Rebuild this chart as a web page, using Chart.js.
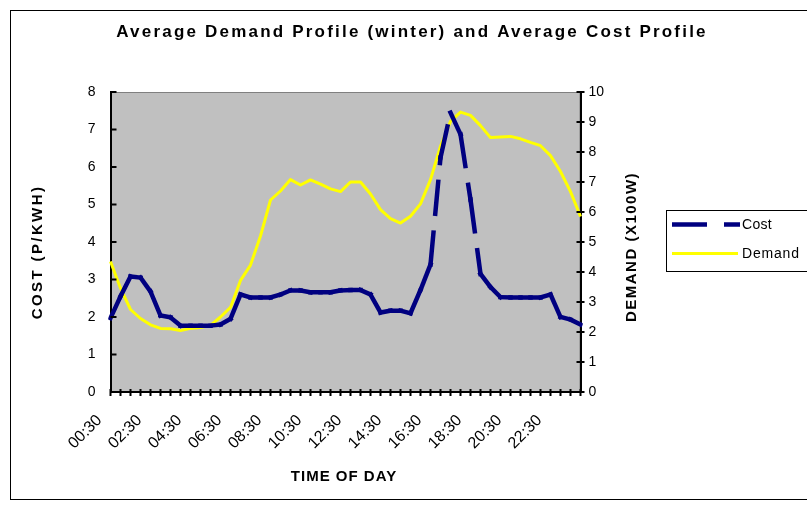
<!DOCTYPE html>
<html><head><meta charset="utf-8">
<script src="https://cdn.jsdelivr.net/npm/chart.js@4/dist/chart.umd.min.js"></script>
<style>html,body{margin:0;padding:0;background:#fff;}#wrap{width:807px;height:513px;}</style>
</head><body><div id="wrap"><canvas id="c" width="807" height="513"></canvas></div>
<script>
const times = ["00:30","01:00","01:30","02:00","02:30","03:00","03:30","04:00","04:30","05:00","05:30","06:00",
  "06:30","07:00","07:30","08:00","08:30","09:00","09:30","10:00","10:30","11:00","11:30","12:00",
  "12:30","13:00","13:30","14:00","14:30","15:00","15:30","16:00","16:30","17:00","17:30","18:00",
  "18:30","19:00","19:30","20:00","20:30","21:00","21:30","22:00","22:30","23:00","23:30","00:00"];
const shownTicks = ["00:30","02:30","04:30","06:30","08:30","10:30","12:30","14:30","16:30","18:30","20:30","22:30"];
const cost = [1.97,2.55,3.08,3.05,2.68,2.04,1.99,1.77,1.77,1.77,1.77,1.8,
  1.95,2.6,2.52,2.52,2.52,2.6,2.71,2.71,2.66,2.66,2.66,2.71,
  2.72,2.72,2.6,2.12,2.17,2.17,2.1,2.72,3.4,6.25,7.45,6.87,
  5.13,3.15,2.8,2.53,2.52,2.52,2.52,2.52,2.6,2.0,1.93,1.8];
const demand = [4.35,3.46,2.75,2.45,2.24,2.12,2.11,2.05,2.12,2.15,2.22,2.5,
  2.82,3.72,4.23,5.2,6.4,6.7,7.08,6.9,7.07,6.93,6.77,6.68,
  7.0,7.0,6.6,6.08,5.78,5.63,5.86,6.27,7.08,8.19,9.02,9.33,
  9.22,8.88,8.48,8.5,8.52,8.44,8.32,8.21,7.88,7.35,6.68,5.85];
const costTicks = {min:0, max:8, step:1};
const demandTicks = {min:0, max:10, step:1};
const titleText = "Average Demand Profile (winter) and Average Cost Profile";
const xTitle = "TIME OF DAY";
const yLeftTitle = "COST (P/KWH)";
const yRightTitle = "DEMAND (X100W)";
const FONT = "'Liberation Sans', Arial, sans-serif";

function txt(ctx, s, x, y, font, align, rot, ls) {
  ctx.save();
  ctx.translate(x, y);
  if (rot) ctx.rotate(rot);
  ctx.font = font;
  try { ctx.letterSpacing = (ls || 0) + 'px'; } catch (e) {}
  ctx.textAlign = align;
  ctx.textBaseline = 'middle';
  ctx.fillStyle = '#000';
  ctx.fillText(s, 0, 0);
  ctx.restore();
}

const decor = {
  id: 'decor',
  beforeDraw(chart) {
    const {ctx, chartArea: a} = chart;
    ctx.save();
    ctx.fillStyle = '#fff';
    ctx.fillRect(0, 0, chart.width, chart.height);
    ctx.strokeStyle = '#000';
    ctx.lineWidth = 1;
    ctx.strokeRect(10.5, 10.5, 806, 489);
    ctx.fillStyle = '#C0C0C0';
    ctx.fillRect(a.left, a.top, a.right - a.left, a.bottom - a.top);
    ctx.strokeStyle = '#808080';
    ctx.strokeRect(a.left + 0.5, a.top + 0.5, a.right - a.left - 1, a.bottom - a.top - 1);
    ctx.restore();
  },
  afterDraw(chart) {
    const {ctx, chartArea: a, scales} = chart;
    ctx.save();
    ctx.strokeStyle = '#000';
    ctx.lineWidth = 2;
    ctx.beginPath();
    const sx = scales.x;
    sx.ticks.forEach((t, i) => {
      const p = sx.getPixelForTick(i);
      ctx.moveTo(p, a.bottom - 3); ctx.lineTo(p, a.bottom + 4);
    });
    const sl = scales.yCost;
    sl.ticks.forEach((t, i) => {
      const p = sl.getPixelForTick(i);
      ctx.moveTo(a.left, p); ctx.lineTo(a.left + 6, p);
    });
    const sr = scales.yDemand;
    sr.ticks.forEach((t, i) => {
      const p = sr.getPixelForTick(i);
      ctx.moveTo(a.right - 4, p); ctx.lineTo(a.right + 4, p);
    });
    ctx.stroke();
    ctx.restore();

    txt(ctx, titleText, 412, 32, "bold 17px " + FONT, 'center', 0, 2.2);
    txt(ctx, xTitle, 344, 477, "bold 15px " + FONT, 'center', 0, 1);
    txt(ctx, yLeftTitle, 38, 252, "bold 15px " + FONT, 'center', -Math.PI / 2, 2.4);
    txt(ctx, yRightTitle, 632, 247, "bold 15px " + FONT, 'center', -Math.PI / 2, 1.5);

    // legend
    ctx.save();
    ctx.strokeStyle = '#000';
    ctx.lineWidth = 1;
    ctx.strokeRect(666.5, 210.5, 200, 61);
    const ds = chart.data.datasets;
    ctx.lineCap = 'butt';
    ctx.strokeStyle = ds[0].borderColor; ctx.lineWidth = ds[0].borderWidth;
    ctx.setLineDash([35, 17]);
    ctx.beginPath(); ctx.moveTo(672, 224.5); ctx.lineTo(740, 224.5); ctx.stroke();
    ctx.setLineDash([]);
    ctx.strokeStyle = ds[1].borderColor; ctx.lineWidth = ds[1].borderWidth;
    ctx.beginPath(); ctx.moveTo(672, 253.5); ctx.lineTo(738, 253.5); ctx.stroke();
    ctx.restore();
    txt(ctx, ds[0].label, 742, 225, "14px " + FONT, 'left', 0, 0.3);
    txt(ctx, ds[1].label, 742, 254, "14px " + FONT, 'left', 0, 0.8);
  }
};

const yFont = {family: FONT, size: 14};
const xFont = {family: FONT, size: 16};
new Chart(document.getElementById('c'), {
  type: 'line',
  data: {
    labels: times,
    datasets: [
      {label: 'Cost', data: cost, yAxisID: 'yCost', borderColor: '#000080', borderWidth: 4.5,
       borderDash: [32, 19], borderCapStyle: 'square', borderJoinStyle: 'round', pointRadius: 0, tension: 0,
       segment: {borderDashOffset: c => (c.p0DataIndex % 2 ? 0.001 : 0)}},
      {label: 'Demand', data: demand, yAxisID: 'yDemand', borderColor: '#FFFF00', borderWidth: 3,
       borderJoinStyle: 'round', pointRadius: 0, tension: 0}
    ]
  },
  options: {
    responsive: false, animation: false, events: [],
    layout: {padding: {left: 18, right: 0, top: 92, bottom: 0}},
    plugins: {legend: {display: false}, tooltip: {enabled: false}, title: {display: false}},
    scales: {
      x: {
        type: 'category', offset: false,
        grid: {display: false, drawTicks: false}, border: {display: true, color: '#000', width: 2},
        ticks: {autoSkip: false, maxRotation: 45, minRotation: 45, labelOffset: -11, padding: 19,
          font: xFont, color: '#000',
          callback: function (v) { const l = this.getLabelForValue(v); return shownTicks.includes(l) ? l : ''; }},
        afterFit: s => { s.height = 121; }
      },
      yCost: {
        position: 'left', min: costTicks.min, max: costTicks.max,
        grid: {display: false, drawTicks: false}, border: {display: true, color: '#000', width: 2},
        ticks: {stepSize: costTicks.step, padding: 15, font: yFont, color: '#000'},
        afterFit: s => { s.width = 92.5; }
      },
      yDemand: {
        position: 'right', min: demandTicks.min, max: demandTicks.max,
        grid: {display: false, drawTicks: false}, border: {display: true, color: '#000', width: 2},
        ticks: {stepSize: demandTicks.step, padding: 8, font: yFont, color: '#000'},
        afterFit: s => { s.width = 226.5; }
      }
    }
  },
  plugins: [decor]
});
</script></body></html>
